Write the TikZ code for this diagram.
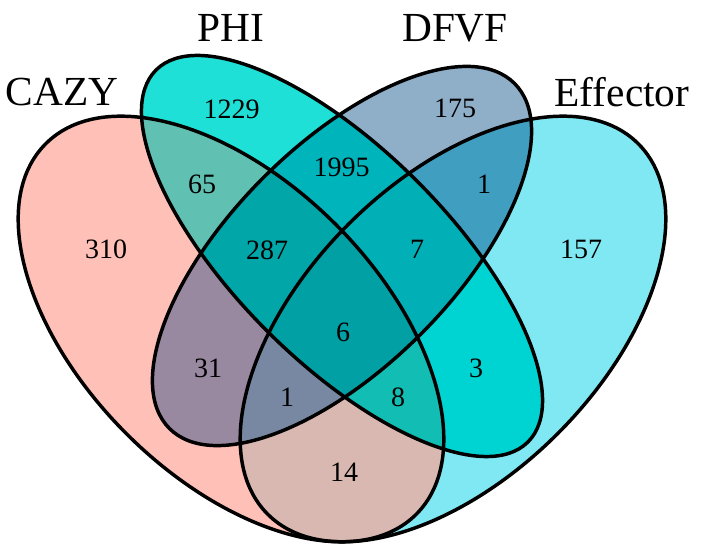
\documentclass[tikz,border=0pt]{standalone}
\usepackage{fontspec}
\setmainfont{Liberation Serif}
\definecolor{cA}{HTML}{FFC0B8}
\definecolor{cB}{HTML}{1EE0D6}
\definecolor{cC}{HTML}{8FAEC8}
\definecolor{cD}{HTML}{80E8F2}
\definecolor{cAB}{HTML}{60C1B2}
\definecolor{cAC}{HTML}{9888A0}
\definecolor{cAD}{HTML}{D8B8B0}
\definecolor{cBC}{HTML}{00B4BC}
\definecolor{cBD}{HTML}{00D4D2}
\definecolor{cCD}{HTML}{409FC0}
\definecolor{cABC}{HTML}{00A6A8}
\definecolor{cABD}{HTML}{12BEB4}
\definecolor{cACD}{HTML}{7888A2}
\definecolor{cBCD}{HTML}{00B0B6}
\definecolor{cABCD}{HTML}{00A0A4}
\newcommand\ellA{(231,329) ellipse [x radius=262, y radius=148]}
\newcommand\ellB{(342,256) ellipse [x radius=263, y radius=106]}
\newcommand\ellC{(342,256) ellipse [x radius=244, y radius=111]}
\newcommand\ellD{(453,329) ellipse [x radius=262, y radius=148]}
\tikzset{
  rotA/.style={rotate around={-45:(231,329)}},
  rotB/.style={rotate around={-45:(342,256)}},
  rotC/.style={rotate around={45:(342,256)}},
  rotD/.style={rotate around={45:(453,329)}},
  outline/.style={draw=black, line width=2.6pt},
  num/.style={font=\fontsize{21}{25}\selectfont, inner sep=0pt},
  setlabel/.style={font=\fontsize{31}{36}\selectfont, inner sep=0pt, anchor=base}
}
\newcommand\cA{\clip[rotA] \ellA;}
\newcommand\cB{\clip[rotB] \ellB;}
\newcommand\cC{\clip[rotC] \ellC;}
\newcommand\cD{\clip[rotD] \ellD;}
\newcommand\paint[2]{\begin{scope}#1\fill[#2] (0,0) rectangle (701,548);\end{scope}}
\begin{document}
\begin{tikzpicture}[x=0.75pt, y=-0.75pt]
\useasboundingbox (0,0) rectangle (701,548);
% singles
\paint{\cA}{cA}
\paint{\cB}{cB}
\paint{\cC}{cC}
\paint{\cD}{cD}
% pairs
\paint{\cA\cB}{cAB}
\paint{\cA\cC}{cAC}
\paint{\cA\cD}{cAD}
\paint{\cB\cC}{cBC}
\paint{\cB\cD}{cBD}
\paint{\cC\cD}{cCD}
% triples
\paint{\cA\cB\cC}{cABC}
\paint{\cA\cB\cD}{cABD}
\paint{\cA\cC\cD}{cACD}
\paint{\cB\cC\cD}{cBCD}
% all four
\paint{\cA\cB\cC\cD}{cABCD}
% outlines
\draw[outline, rotA] \ellA;
\draw[outline, rotB] \ellB;
\draw[outline, rotC] \ellC;
\draw[outline, rotD] \ellD;
% set labels
\node[setlabel] (lA) at (62,106) {CAZY};
\node[setlabel] (lB) at (231,42) {PHI};
\node[setlabel] (lC) at (455,42) {DFVF};
\node[setlabel] (lD) at (622,107) {Effector};
% counts
\node[num] (nA) at (106,249) {310};
\node[num] (nB) at (231.5,109) {1229};
\node[num] (nC) at (455,108) {175};
\node[num] (nD) at (581,249) {157};
\node[num] (nAB) at (202,184) {65};
\node[num] (nBC) at (341.5,167) {1995};
\node[num] (nCD) at (484,184) {1};
\node[num] (nABC) at (267,250) {287};
\node[num] (nBCD) at (417,249) {7};
\node[num] (nABCD) at (343,332) {6};
\node[num] (nAC) at (208,368) {31};
\node[num] (nACD) at (287,397) {1};
\node[num] (nABD) at (398,397) {8};
\node[num] (nBD) at (476,368) {3};
\node[num] (nAD) at (344,472) {14};
\end{tikzpicture}
\end{document}
